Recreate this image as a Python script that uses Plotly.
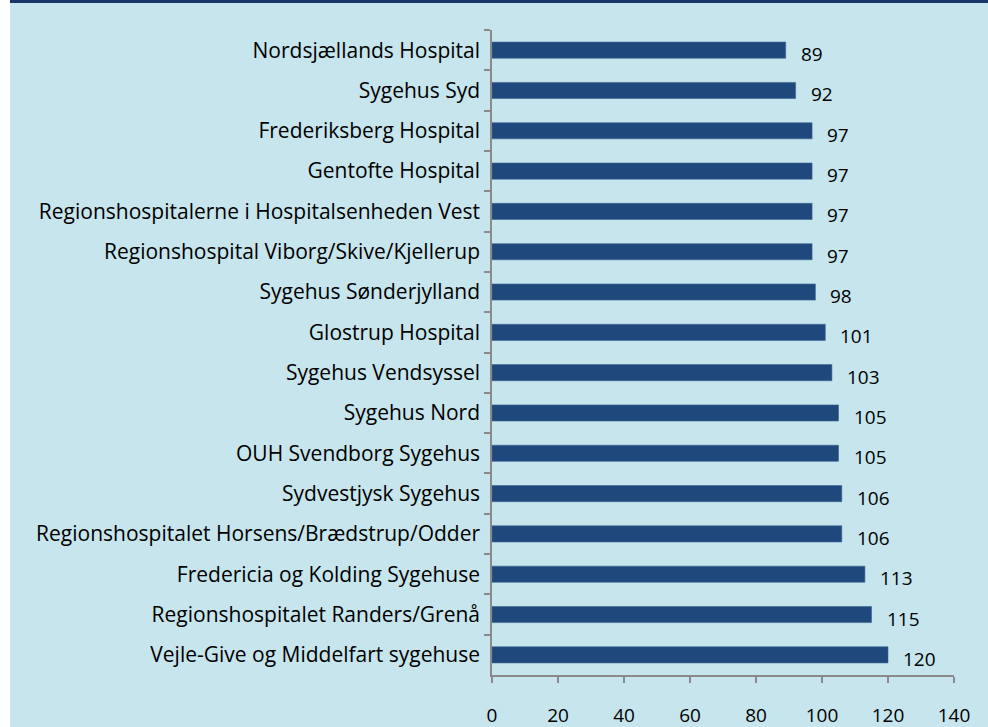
import plotly.graph_objects as go

categories = [
    "Nordsjællands Hospital",
    "Sygehus Syd",
    "Frederiksberg Hospital",
    "Gentofte Hospital",
    "Regionshospitalerne i Hospitalsenheden Vest",
    "Regionshospital Viborg/Skive/Kjellerup",
    "Sygehus Sønderjylland",
    "Glostrup Hospital",
    "Sygehus Vendsyssel",
    "Sygehus Nord",
    "OUH Svendborg Sygehus",
    "Sydvestjysk Sygehus",
    "Regionshospitalet Horsens/Brædstrup/Odder",
    "Fredericia og Kolding Sygehuse",
    "Regionshospitalet Randers/Grenå",
    "Vejle-Give og Middelfart sygehuse",
]
values = [89, 92, 97, 97, 97, 97, 98, 101, 103, 105, 105, 106, 106, 113, 115, 120]
x_ticks = [0, 20, 40, 60, 80, 100, 120, 140]

W, H = 988, 727
ML, MR, MT, MB = 492, 34, 30, 52
PW, PH = W - ML - MR, H - MT - MB

BG = "#C6E5EC"
BAR = "#1F497D"
FONT = "Open Sans"
FS = 19
FS_CAT = 21

fig = go.Figure()
fig.add_trace(go.Bar(
    x=values, y=categories, orientation="h",
    marker=dict(color=BAR, line=dict(color="#3E6494", width=0.6)),
    width=0.4, hoverinfo="skip",
))

for c, v in zip(categories, values):
    fig.add_annotation(x=v, y=c, text=str(v), showarrow=False,
                       xanchor="left", yanchor="middle", xshift=13, yshift=-4,
                       font=dict(family=FONT, size=FS, color="#000000"))

def px_x(p):
    return (p - ML) / PW

def px_y(p):
    return 1 - (p - MT) / PH

# white strip on the left edge
fig.add_shape(type="rect", xref="paper", yref="paper",
              x0=px_x(-5), x1=px_x(10), y0=px_y(H + 5), y1=px_y(-5),
              fillcolor="#FFFFFF", line=dict(width=0), layer="below")
# dark band at the top
fig.add_shape(type="rect", xref="paper", yref="paper",
              x0=px_x(10), x1=px_x(W + 5), y0=px_y(3), y1=px_y(-5),
              fillcolor="#1B3668", line=dict(width=0), layer="below")

fig.update_layout(
    width=W, height=H, autosize=False,
    margin=dict(l=ML, r=MR, t=MT, b=MB, pad=0, autoexpand=False),
    paper_bgcolor=BG, plot_bgcolor=BG,
    showlegend=False,
    bargap=0.6,
    font=dict(family=FONT, size=FS, color="#000000"),
    xaxis=dict(range=[0, 140], tickvals=x_ticks, ticktext=[str(t) for t in x_ticks],
               automargin=False,
               showgrid=False, zeroline=False, showline=True,
               linecolor="#8A8A8A", linewidth=1.5,
               ticks="outside", ticklen=6, tickcolor="#8A8A8A", tickwidth=1.5,
               ticklabelstandoff=16,
               tickfont=dict(family=FONT, size=FS, color="#000000"), fixedrange=True),
    yaxis=dict(autorange="reversed", automargin=False,
               showgrid=False, zeroline=False, showline=True,
               linecolor="#8A8A8A", linewidth=1.5,
               ticks="outside", ticklen=6, tickcolor="#8A8A8A", tickwidth=1.5,
               tickson="boundaries", ticklabelstandoff=6,
               tickfont=dict(family=FONT, size=FS_CAT, color="#000000"), fixedrange=True),
)

css = "margin:0;padding:0;overflow:hidden;background:" + BG + ";"
fig.write_html("out.html", config={"displayModeBar": False, "responsive": False},
               post_script="document.documentElement.style.cssText='" + css + "';"
                           "document.body.style.cssText='" + css + "';")
